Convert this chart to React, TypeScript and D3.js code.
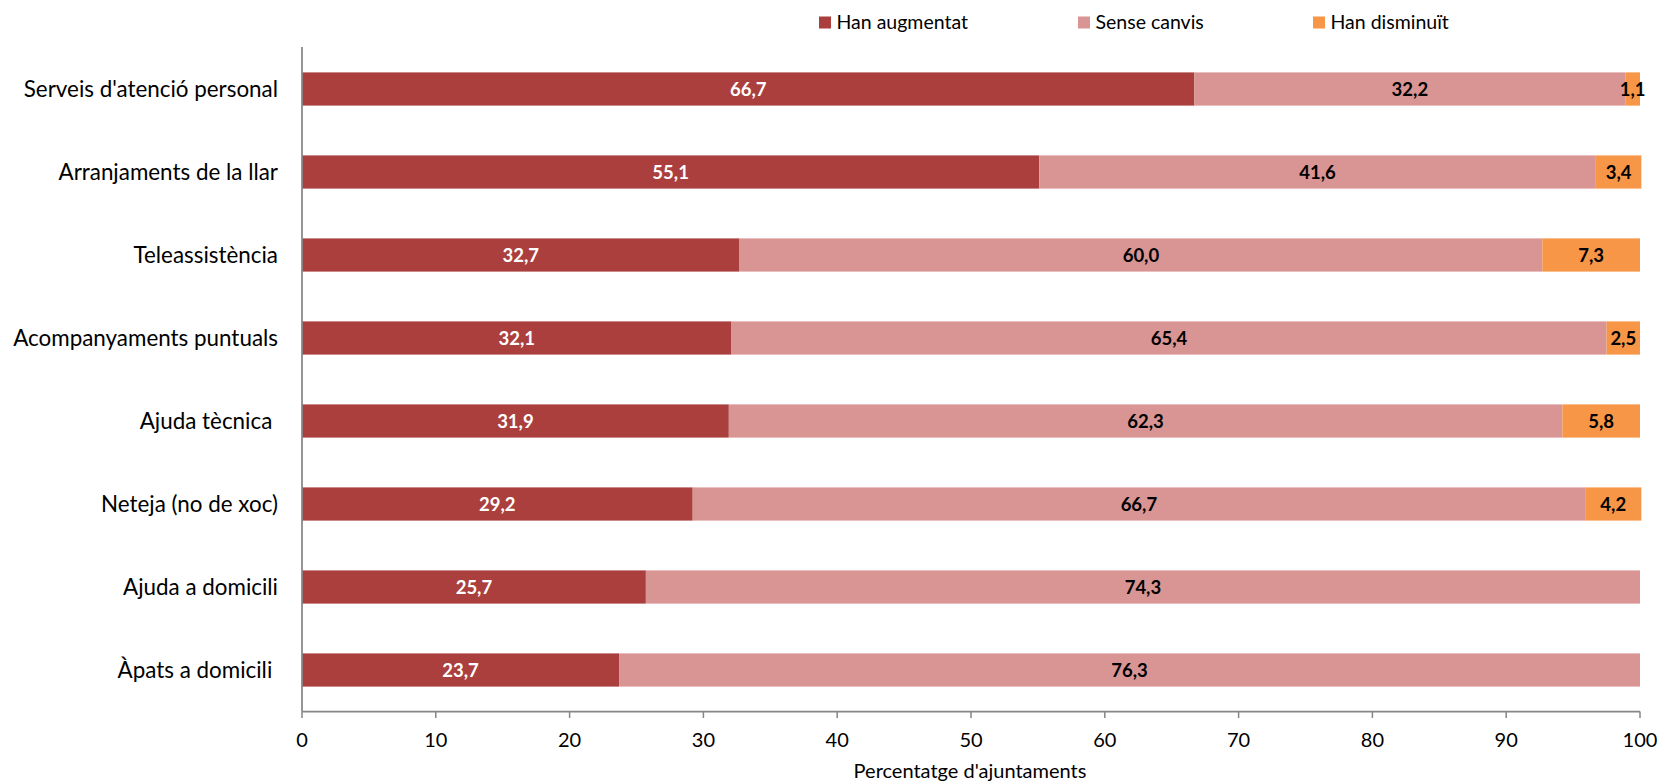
import React from "react";
import * as d3 from "d3";

const categories = [
  "Serveis d'atenció personal",
  "Arranjaments de la llar",
  "Teleassistència",
  "Acompanyaments puntuals",
  "Ajuda tècnica ",
  "Neteja (no de xoc)",
  "Ajuda a domicili",
  "Àpats a domicili ",
];
const hanAugmentat = [66.7, 55.1, 32.7, 32.1, 31.9, 29.2, 25.7, 23.7];
const senseCanvis = [32.2, 41.6, 60.0, 65.4, 62.3, 66.7, 74.3, 76.3];
const hanDisminuit = [1.1, 3.4, 7.3, 2.5, 5.8, 4.2, 0, 0];
const seriesNames = ["Han augmentat", "Sense canvis", "Han disminuït"];
const seriesColors = ["#AA3F3E", "#D99594", "#F79646"];
const labelColors = ["#FFFFFF", "#000000", "#000000"];
const xTicks = [0, 10, 20, 30, 40, 50, 60, 70, 80, 90, 100];

const W = 1661;
const H = 783;
const FONT = "Lato, 'Open Sans', sans-serif";

export default function App() {
  const x = d3.scaleLinear().domain([0, 100]).range([302, 1640]);
  const y = d3
    .scaleBand<string>()
    .domain(categories)
    .range([47.5, 711.5])
    .paddingInner(0.6)
    .paddingOuter(0.3);
  const rows = categories.map((c, i) => ({
    cat: c,
    vals: [hanAugmentat[i], senseCanvis[i], hanDisminuit[i]],
  }));
  const fmt = (v: number) => v.toFixed(1).replace(".", ",");
  const legendX = [819, 1078, 1313];
  const axisY = 711.5;

  return (
    <svg
      width={W}
      height={H}
      style={{ position: "absolute", left: 0, top: 0, background: "#fff" }}
      fontFamily={FONT}
    >
      {/* legend */}
      {seriesNames.map((n, i) => (
        <g key={n}>
          <rect x={legendX[i]} y={16.5} width={12} height={12} fill={seriesColors[i]} />
          <text x={legendX[i] + 17.5} y={29} fontSize={19.5} fill="#000">
            {n}
          </text>
        </g>
      ))}

      {/* category labels */}
      {rows.map((r) => {
        const cy = (y(r.cat) as number) + y.bandwidth() / 2;
        return (
          <text
            key={r.cat}
            x={278}
            y={cy}
            dy="0.36em"
            textAnchor="end"
            fontSize={22.4}
            fill="#000"
            style={{ whiteSpace: "pre" }}
          >
            {r.cat}
          </text>
        );
      })}

      {/* bars */}
      {rows.map((r) => {
        let acc = 0;
        const yy = y(r.cat) as number;
        return (
          <g key={r.cat}>
            {r.vals.map((v, j) => {
              const x0 = x(acc);
              acc += v;
              const x1 = x(acc);
              if (v <= 0) return null;
              return (
                <g key={j}>
                  <rect x={x0} y={yy} width={x1 - x0} height={y.bandwidth()} fill={seriesColors[j]} />
                  <text
                    x={(x0 + x1) / 2}
                    y={yy + y.bandwidth() / 2}
                    dy="0.36em"
                    textAnchor="middle"
                    fontSize={18.5}
                    fontWeight="bold"
                    fill={labelColors[j]}
                  >
                    {fmt(v)}
                  </text>
                </g>
              );
            })}
          </g>
        );
      })}

      {/* axes */}
      <line x1={302} x2={302} y1={47} y2={axisY} stroke="#868686" strokeWidth={1.75} />
      <line x1={302} x2={1640} y1={axisY} y2={axisY} stroke="#868686" strokeWidth={1.75} />
      {xTicks.map((t) => (
        <g key={t}>
          <line x1={x(t)} x2={x(t)} y1={axisY} y2={718} stroke="#868686" strokeWidth={1.5} />
          <text x={x(t)} y={747} textAnchor="middle" fontSize={20} fill="#000">
            {t}
          </text>
        </g>
      ))}
      <text x={970} y={778} textAnchor="middle" fontSize={20} fill="#000">
        Percentatge d'ajuntaments
      </text>
    </svg>
  );
}
